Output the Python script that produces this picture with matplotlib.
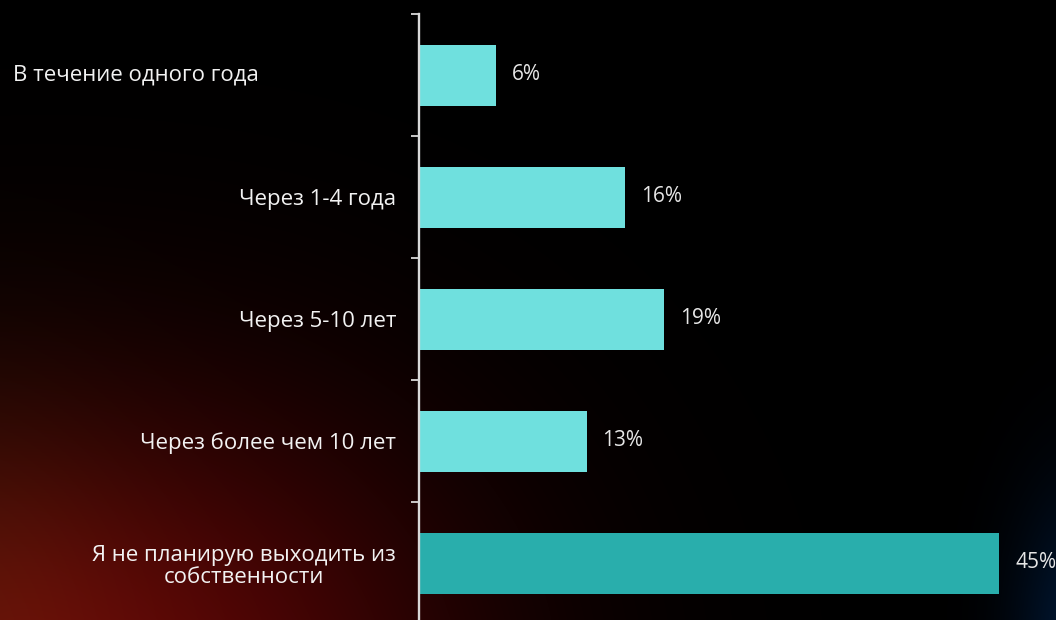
import matplotlib.pyplot as plt
import matplotlib.transforms as mtransforms
import numpy as np

plt.rcParams['font.family'] = ['Open Sans', 'DejaVu Sans']

categories = ['В течение одного года', 'Через 1-4 года', 'Через 5-10 лет',
              'Через более чем 10 лет', 'Я не планирую выходить из\nсобственности']
values = [6, 16, 19, 13, 45]
colors = ['#6fe0de', '#6fe0de', '#6fe0de', '#6fe0de', '#29aeac']

W, H = 1056, 620
fig = plt.figure(figsize=(W / 100, H / 100), dpi=100)
fig.patch.set_facecolor('black')

# background glow (red at bottom-left, blue at bottom-right)
yy, xx = np.mgrid[0:H, 0:W]
img = np.zeros((H, W, 3))
red = np.exp(-(((xx - 150) / 320.0) ** 2 + ((yy - 690) / 290.0) ** 2))
orange = np.exp(-(((xx + 60) / 180.0) ** 2 + ((yy - 640) / 260.0) ** 2))
blue = np.exp(-(((xx - 1085) / 70.0) ** 2 + ((yy - 640) / 150.0) ** 2))
img[..., 0] = 0.34 * red + 0.16 * orange
img[..., 1] = 0.02 * red + 0.07 * orange + 0.09 * blue
img[..., 2] = 0.02 * red + 0.02 * orange + 0.20 * blue
img = np.clip(img, 0, 1)
bg = fig.add_axes([0, 0, 1, 1], zorder=-1)
bg.imshow(img, aspect='auto', extent=(0, W, H, 0))
bg.axis('off')

ax = fig.add_axes([419 / W, -4 / H, 637 / W, 610 / H])
ax.set_facecolor('none')
y = np.arange(len(categories))
ax.barh(y, values, height=0.5, color=colors, zorder=2)
ax.set_xlim(0, 637 / 12.89)
ax.set_ylim(len(categories) - 0.5, -0.5)

for yi, v in zip(y, values):
    ax.annotate(f'{v}%', (v, yi), xytext=(11.5, 0), textcoords='offset points',
                ha='left', va='center', color='#e6e6e6', fontsize=15,
                annotation_clip=False)

ax.set_yticks(y, [''] + categories[1:])
ax.set_yticks(np.arange(-0.5, len(categories) - 1, 1), minor=True)
ax.tick_params(axis='y', which='major', length=0, pad=16.5, labelsize=16,
               labelcolor='#f2f2f2')
ax.tick_params(axis='y', which='minor', length=6, width=1.3, color='#d9d9d9')
for lab in ax.get_yticklabels():
    lab.set_multialignment('center')
    lab.set_linespacing(1.1)
trans = mtransforms.blended_transform_factory(fig.transFigure, ax.transData)
ax.text(13 / W, 0, categories[0], transform=trans, ha='left', va='center',
        fontsize=16, color='#f2f2f2')

ax.set_xticks([])
for s in ['top', 'right', 'bottom']:
    ax.spines[s].set_visible(False)
ax.spines['left'].set_color('#d9d9d9')
ax.spines['left'].set_linewidth(1.7)

fig.savefig('out.png', dpi=100, facecolor='black')
